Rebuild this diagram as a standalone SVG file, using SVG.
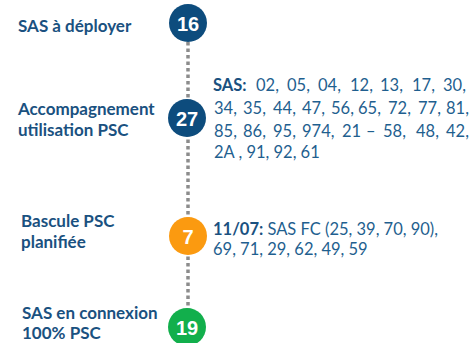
<svg xmlns="http://www.w3.org/2000/svg" width="470" height="343" viewBox="0 0 470 343">
<style>
.lbl{font-family:Lato,"Open Sans",sans-serif;font-weight:700;font-size:17px;fill:#1a5180}
.txt{font-family:Lato,"Open Sans",sans-serif;font-size:16.5px;fill:#1f5f8f}
.b{font-weight:700;fill:#1a5180}
.num{font-family:"Liberation Sans",Arial,sans-serif;font-weight:700;font-size:20px;fill:#fff;text-anchor:middle}
.conn{stroke:#8c8c8c;stroke-width:3.5;stroke-dasharray:3.5 3;fill:none}
</style>
<rect width="470" height="343" fill="#fff"/>
<g id="connectors">
<line class="conn" x1="188" y1="42" x2="188" y2="310"/>
</g>
<g id="node-16">
<text class="lbl" x="18" y="32">SAS à déployer</text>
<circle cx="188" cy="23" r="19" fill="#0d4c7d"/>
<text class="num" x="188" y="30.5">16</text>
</g>
<g id="node-27">
<text class="lbl" x="18" y="115">Accompagnement</text>
<text class="lbl" x="18" y="136">utilisation PSC</text>
<circle cx="187" cy="118" r="19" fill="#0d4c7d"/>
<text class="num" x="187" y="125.5">27</text>
<text class="txt" y="91"><tspan class="b" x="213">SAS:</tspan><tspan x="256">02,</tspan><tspan x="287">05,</tspan><tspan x="318">04,</tspan><tspan x="350">12,</tspan><tspan x="380">13,</tspan><tspan x="412">17,</tspan><tspan x="443">30,</tspan></text>
<text class="txt" y="114"><tspan x="214">34,</tspan><tspan x="243">35,</tspan><tspan x="273">44,</tspan><tspan x="302">47,</tspan><tspan x="331">56,</tspan><tspan x="358">65,</tspan><tspan x="388">72,</tspan><tspan x="418">77,</tspan><tspan x="446">81,</tspan></text>
<text class="txt" y="136.5"><tspan x="214">85,</tspan><tspan x="243">86,</tspan><tspan x="273">95,</tspan><tspan x="302">974,</tspan><tspan x="342">21</tspan><tspan x="366">–</tspan><tspan x="383">58,</tspan><tspan x="416">48,</tspan><tspan x="446">42,</tspan></text>
<text class="txt" x="214" y="157.5">2A , 91, 92, 61</text>
</g>
<g id="node-7">
<text class="lbl" x="21" y="227">Bascule PSC</text>
<text class="lbl" x="21" y="248">planifiée</text>
<circle cx="188" cy="236" r="19" fill="#fb9a10"/>
<text class="num" x="188" y="243.5">7</text>
<text class="txt" x="213" y="235"><tspan class="b">11/07:</tspan> SAS FC (25, 39, 70, 90),</text>
<text class="txt" x="213" y="255">69, 71, 29, 62, 49, 59</text>
</g>
<g id="node-19">
<text class="lbl" x="22" y="319">SAS en connexion</text>
<text class="lbl" x="22" y="339">100% PSC</text>
<circle cx="187" cy="327" r="19" fill="#12af4c"/>
<text class="num" x="187" y="334.5">19</text>
</g>
</svg>
